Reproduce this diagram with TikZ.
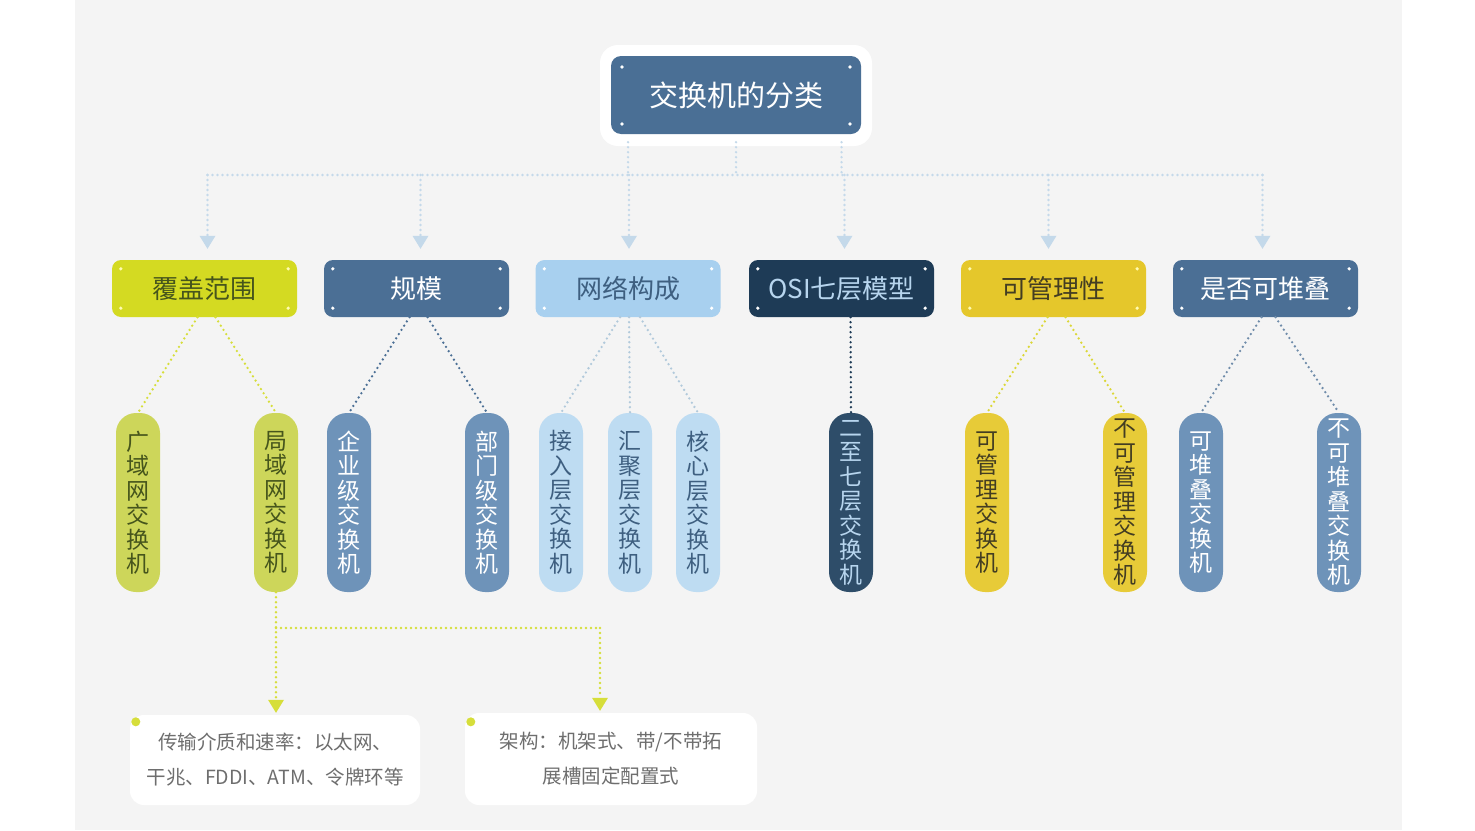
\documentclass[tikz,border=0pt]{standalone}
\usepackage{fontspec}
\setmainfont{Noto Sans CJK SC}
\usetikzlibrary{arrows.meta,calc}
\definecolor{bgpanel}{HTML}{F4F4F4}
\definecolor{rootblue}{HTML}{4A6F95}
\definecolor{ygA}{HTML}{D4DA22}
\definecolor{ygB}{HTML}{CDD65A}
\definecolor{ygT}{HTML}{46551C}
\definecolor{blA}{HTML}{4B6F95}
\definecolor{blB}{HTML}{6E93B9}
\definecolor{ltA}{HTML}{A8D0EF}
\definecolor{ltB}{HTML}{BEDCF2}
\definecolor{ltT}{HTML}{3E5F80}
\definecolor{nvA}{HTML}{1E3B56}
\definecolor{nvB}{HTML}{2E4D69}
\definecolor{nvT}{HTML}{B7D5EE}
\definecolor{gdA}{HTML}{E5C72B}
\definecolor{gdB}{HTML}{E7CB38}
\definecolor{gdT}{HTML}{433D22}
\definecolor{busc}{HTML}{C4D9EA}
\definecolor{ygline}{HTML}{D6DE3A}
\definecolor{graytxt}{HTML}{6E6E6E}
\tikzset{
  lone/.style={rounded corners=9pt, minimum width=185pt, minimum height=57pt, inner sep=0pt, font=\fontsize{26}{30}\selectfont},
  ltwo/.style={rounded corners=20pt, minimum width=44pt, minimum height=179pt, inner sep=0pt, align=center, font=\fontsize{23}{24.5}\selectfont},
  conn/.style={line width=2.6pt, dash pattern=on 0pt off 5pt, line cap=round},
  tipc/.style={-{Triangle[width=16pt,length=13pt,fill=#1,color=#1,line width=0pt]}},
  notebox/.style={fill=white, rounded corners=14pt, minimum height=90pt, inner sep=0pt, align=center, text=graytxt, font=\fontsize{19.5}{35}\selectfont},
}
\begin{document}
\begin{tikzpicture}[x=1pt,y=-1pt]
\useasboundingbox (0,0) rectangle (1475,830);
\fill[white] (0,0) rectangle (1475,830);
\fill[bgpanel] (75,0) rectangle (1402,830);

% root
\fill[white, rounded corners=18pt] (600,45) rectangle (872,146);
\node[fill=rootblue, rounded corners=10pt, minimum width=250pt, minimum height=78pt, inner sep=0pt, text=white, font=\fontsize{29}{32}\selectfont] (root) at (736,95) {交换机的分类};

% level one
\node[lone, fill=ygA, text=ygT] (l1a) at (204.5,288.5) {覆盖范围};
\node[lone, fill=blA, text=white] (l1b) at (416.5,288.5) {规模};
\node[lone, fill=ltA, text=ltT] (l1c) at (628,288.5) {网络构成};
\node[lone, fill=nvA, text=nvT] (l1d) at (841.5,288.5) {OSI七层模型};
\node[lone, fill=gdA, text=gdT] (l1e) at (1053.5,288.5) {可管理性};
\node[lone, fill=blA, text=white] (l1f) at (1265.5,288.5) {是否可堆叠};

% corner dots
\foreach \n/\c in {l1a/yellow!30, l1b/white, l1c/white, l1d/white, l1e/yellow!30, l1f/white}{
  \fill[\c] ($(\n.north west)+(9,9)$) circle (1.8pt);
  \fill[\c] ($(\n.north east)+(-9,9)$) circle (1.8pt);
  \fill[\c] ($(\n.south west)+(9,-9)$) circle (1.8pt);
  \fill[\c] ($(\n.south east)+(-9,-9)$) circle (1.8pt);
}
\foreach \c in {(622,67),(850,67),(622,124),(850,124)}{\fill[white] \c circle (1.8pt);}

% level two
\node[ltwo, fill=ygB, text=ygT] (l2a) at (138,502.5) {广\\域\\网\\交\\换\\机};
\node[ltwo, fill=ygB, text=ygT] (l2b) at (276,502.5) {局\\域\\网\\交\\换\\机};
\node[ltwo, fill=blB, text=white] (l2c) at (349,502.5) {企\\业\\级\\交\\换\\机};
\node[ltwo, fill=blB, text=white] (l2d) at (487,502.5) {部\\门\\级\\交\\换\\机};
\node[ltwo, fill=ltB, text=ltT] (l2e) at (561,502.5) {接\\入\\层\\交\\换\\机};
\node[ltwo, fill=ltB, text=ltT] (l2f) at (630,502.5) {汇\\聚\\层\\交\\换\\机};
\node[ltwo, fill=ltB, text=ltT] (l2g) at (698,502.5) {核\\心\\层\\交\\换\\机};
\node[ltwo, fill=nvB, text=nvT] (l2h) at (851,502.5) {二\\至\\七\\层\\交\\换\\机};
\node[ltwo, fill=gdB, text=gdT] (l2i) at (987,502.5) {可\\管\\理\\交\\换\\机};
\node[ltwo, fill=gdB, text=gdT] (l2j) at (1125,502.5) {不\\可\\管\\理\\交\\换\\机};
\node[ltwo, fill=blB, text=white] (l2k) at (1201,502.5) {可\\堆\\叠\\交\\换\\机};
\node[ltwo, fill=blB, text=white] (l2l) at (1339,502.5) {不\\可\\堆\\叠\\交\\换\\机};

% bus from root
\coordinate (bus) at (0,175);
\draw[conn, busc] (root.south -| l1c.north) ++(0,8) -- (bus -| l1c.north);
\draw[conn, busc] (root.south) ++(0,8) -- (bus -| root.south);
\draw[conn, busc] (root.south -| l1d.north) ++(0,8) -- (bus -| l1d.north);
\draw[conn, busc] ([xshift=3pt]bus -| l1a.north) -- ([xshift=-3pt]bus -| l1f.north);
\foreach \n/\dx in {l1a/3,l1b/4,l1c/1,l1d/3,l1e/-5,l1f/-3}{
  \draw[conn, busc, tipc=busc, shorten >=11pt] ([xshift=\dx pt]bus -| \n.north) -- ([xshift=\dx pt]\n.north);
}

% level one to level two
\draw[conn, ygline] ($(l1a.south)+(-7,0)$) -- (l2a.north);
\draw[conn, ygline] ($(l1a.south)+(11,0)$) -- (l2b.north);
\draw[conn, blA] ($(l1b.south)+(-7,0)$) -- (l2c.north);
\draw[conn, blA] ($(l1b.south)+(11,0)$) -- (l2d.north);
\draw[conn, ltB!80!gray] ($(l1c.south)+(-8,0)$) -- (l2e.north);
\draw[conn, ltB!80!gray] ($(l1c.south)+(1,0)$) -- (l2f.north);
\draw[conn, ltB!80!gray] ($(l1c.south)+(12,0)$) -- (l2g.north);
\draw[conn, nvA] ($(l1d.south)+(9,0)$) -- (l2h.north);
\draw[conn, ygline!70!gdA] ($(l1e.south)+(-6,0)$) -- (l2i.north);
\draw[conn, ygline!70!gdA] ($(l1e.south)+(12,0)$) -- (l2j.north);
\draw[conn, blA!80] ($(l1f.south)+(-4,0)$) -- (l2k.north);
\draw[conn, blA!80] ($(l1f.south)+(10,0)$) -- (l2l.north);

% notes
\node[notebox, minimum width=290pt] (n1) at (275,760) {传输介质和速率：以太网、\\干兆、FDDI、ATM、令牌环等};
\node[notebox, minimum width=292pt, minimum height=92pt] (n2) at (611,759) {架构：机架式、带/不带拓\\展槽固定配置式};
\fill[ygline] ($(n1.north west)+(6,7)$) circle (4.5pt);
\fill[ygline] ($(n2.north west)+(6,9)$) circle (4.5pt);

\coordinate (fork) at (0,628);
\coordinate (n2in) at (600,0);
\draw[conn, ygline, tipc=ygline, shorten >=2pt] (l2b.south) -- (n1.north -| l2b.south);
\draw[conn, ygline] (fork -| l2b.south) -- (fork -| n2in);
\draw[conn, ygline, tipc=ygline, shorten >=2pt] (fork -| n2in) -- (n2.north -| n2in);
\end{tikzpicture}
\end{document}
